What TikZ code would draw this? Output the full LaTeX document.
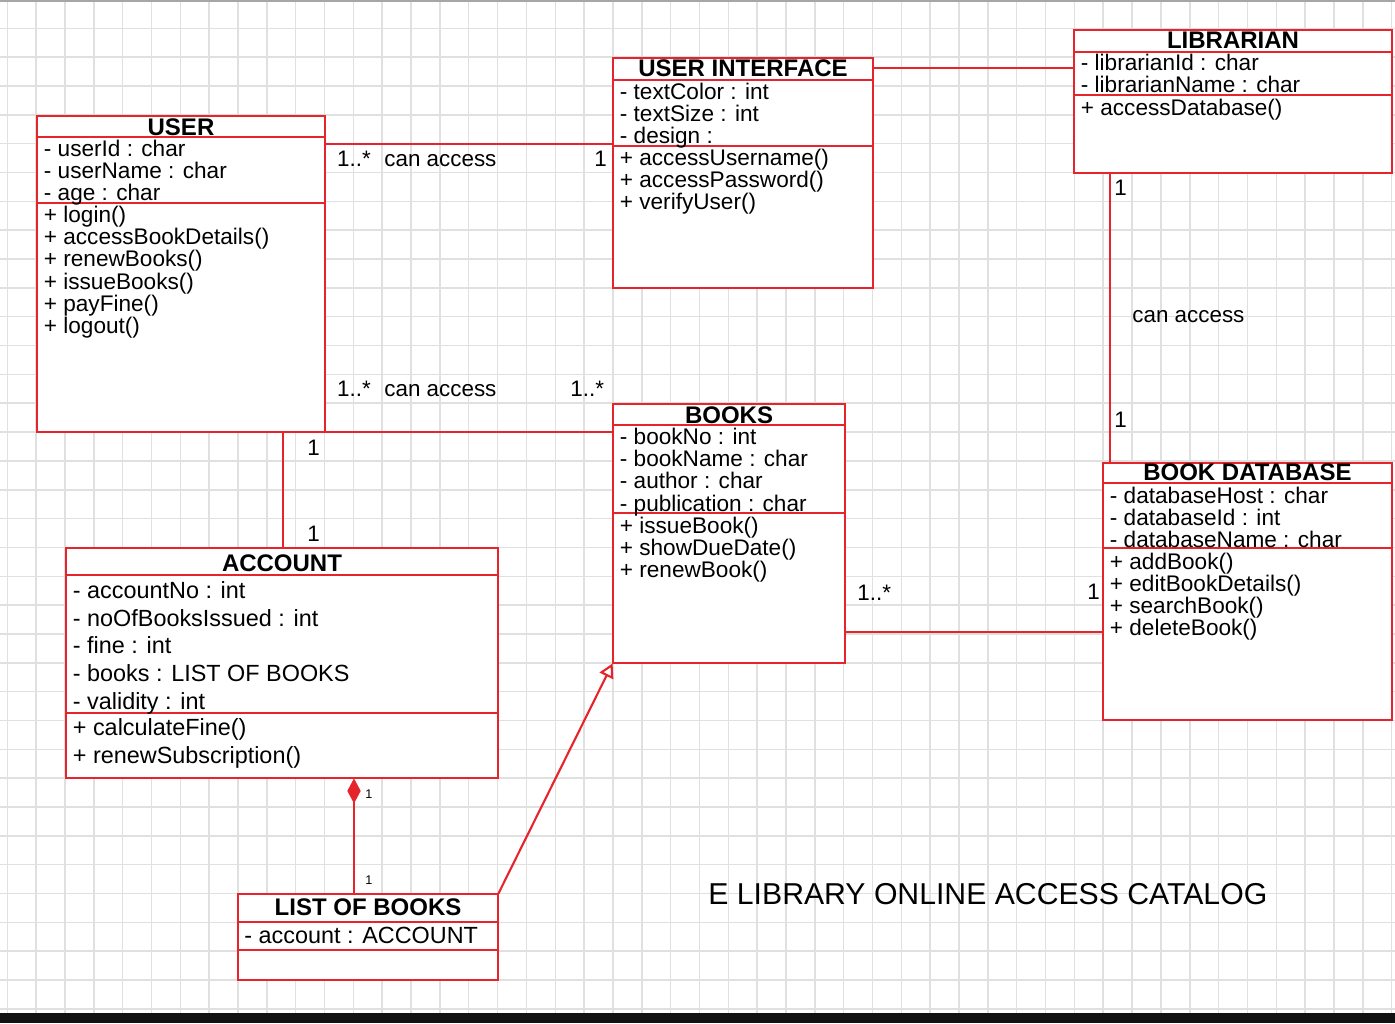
\documentclass[tikz,border=0pt]{standalone}
\usepackage{fontspec}
\setmainfont{Liberation Sans}
\usetikzlibrary{fit,arrows.meta,calc}
\definecolor{umlred}{RGB}{230,36,44}
\definecolor{gridgray}{RGB}{224,224,224}
\newcommand\umllines[6]{%
  \foreach \t [count=\i] in {#6} {\node[#5] (#1-\i) at ({#2},{#3+(\i-1)*#4}) {\t};}}
\tikzset{
  umlbox/.style={fill=white, inner sep=0pt},
  umlline/.style={draw=umlred, line width=1.05pt},
  gridline/.style={draw=gridgray, line width=0.75pt},
  attr/.style={anchor=base west, inner sep=0pt, font=\fontsize{11.3}{13}\selectfont},
  attrbig/.style={anchor=base west, inner sep=0pt, font=\fontsize{11.7}{13}\selectfont},
  ttl/.style={anchor=base, inner sep=0pt, font=\fontsize{12}{13}\selectfont\bfseries},
  lbl/.style={anchor=base west, inner sep=0pt, font=\fontsize{11.2}{13}\selectfont},
  smalllbl/.style={anchor=base west, inner sep=0pt, font=\fontsize{6.3}{7}\selectfont},
  heading/.style={anchor=base west, inner sep=0pt, font=\fontsize{15.1}{17}\selectfont},
}
\begin{document}
\begin{tikzpicture}[x=0.5pt,y=-0.5pt]
\useasboundingbox (0,0) rectangle (1395,1023);
\fill[white] (0,0) rectangle (1395,1023);
% grid
\foreach \k in {0,...,48} \draw[gridline] ({7.3+\k*28.84},0) -- ({7.3+\k*28.84},1013);
\foreach \k in {0,...,34} \draw[gridline] (0,{28.3+\k*28.84}) -- (1395,{28.3+\k*28.84});
\draw[gray!70, line width=0.8pt] (0,1) -- (1395,1);
\fill[black!93] (0,1013) rectangle (1395,1023);

% class boxes (white fill; outlines drawn after connectors)
\node[umlbox, fit={(37,116) (325,432)}] (user) {};
\node[umlbox, fit={(613,58) (873,288)}] (ui) {};
\node[umlbox, fit={(1074,30) (1392,173)}] (lib) {};
\node[umlbox, fit={(1103,463) (1392,720)}] (db) {};
\node[umlbox, fit={(613,404) (845,663)}] (books) {};
\node[umlbox, fit={(66,548) (498,778)}] (acc) {};
\node[umlbox, fit={(238,894) (498,980)}] (list) {};

% connectors
\draw[umlline] (user.east |- 0,144) -- (ui.west |- 0,144);
\draw[umlline] (ui.east |- 0,68) -- (lib.west |- 0,68);
\draw[umlline] (lib.south -| 1110,0) -- (db.north -| 1110,0);
\draw[umlline] (user.south east) -- (books.west |- user.south east);
\draw[umlline] (user.south -| 283,0) -- (acc.north -| 283,0);
\draw[umlline] (books.east |- 0,632) -- (db.west |- 0,632);
\draw[umlline, {Diamond[length=12.5pt,width=6.7pt,fill=umlred]}-] (acc.south -| 354,0) -- (list.north -| 354,0);
\draw[umlline, -{Triangle[open,length=7pt,width=7.5pt]}] (list.north east) -- (books.south west);

% box outlines
\foreach \n in {user,ui,lib,db,books,acc,list} \draw[umlline] (\n.north west) rectangle (\n.south east);

% USER
\draw[umlline] (user.west |- 0,137) -- (user.east |- 0,137);
\draw[umlline] (user.west |- 0,203) -- (user.east |- 0,203);
\node[ttl] (user-t) at (user.north |- 0,135) {USER};
\umllines{user-a}{43.5}{156}{22.2}{attr}{- userId : char, - userName : char, - age : char}
\umllines{user-m}{43.5}{222.5}{22.2}{attr}{+ login(), + accessBookDetails(), + renewBooks(), + issueBooks(), + payFine(), + logout()}

% USER INTERFACE
\draw[umlline] (ui.west |- 0,80) -- (ui.east |- 0,80);
\draw[umlline] (ui.west |- 0,146) -- (ui.east |- 0,146);
\node[ttl] (ui-t) at (ui.north |- 0,76.5) {USER INTERFACE};
\umllines{ui-a}{619.5}{99}{22}{attr}{- textColor : int, - textSize : int, - design :}
\umllines{ui-m}{619.5}{165}{22}{attr}{+ accessUsername(), + accessPassword(), + verifyUser()}

% LIBRARIAN
\draw[umlline] (lib.west |- 0,52) -- (lib.east |- 0,52);
\draw[umlline] (lib.west |- 0,95) -- (lib.east |- 0,95);
\node[ttl] (lib-t) at (lib.north |- 0,48.5) {LIBRARIAN};
\umllines{lib-a}{1080.5}{70}{22.4}{attr}{- librarianId : char, - librarianName : char}
\umllines{lib-m}{1080.5}{115}{22.4}{attr}{+ accessDatabase()}

% BOOK DATABASE
\draw[umlline] (db.west |- 0,483) -- (db.east |- 0,483);
\draw[umlline] (db.west |- 0,548) -- (db.east |- 0,548);
\node[ttl] (db-t) at (db.north |- 0,480) {BOOK DATABASE};
\umllines{db-a}{1109.5}{503}{22}{attr}{- databaseHost : char, - databaseId : int, - databaseName : char}
\umllines{db-m}{1109.5}{569}{22}{attr}{+ addBook(), + editBookDetails(), + searchBook(), + deleteBook()}

% BOOKS
\draw[umlline] (books.west |- 0,425) -- (books.east |- 0,425);
\draw[umlline] (books.west |- 0,513) -- (books.east |- 0,513);
\node[ttl] (books-t) at (books.north |- 0,423) {BOOKS};
\umllines{books-a}{619.5}{444.5}{22.2}{attr}{- bookNo : int, - bookName : char, - author : char, - publication : char}
\umllines{books-m}{619.5}{533}{22}{attr}{+ issueBook(), + showDueDate(), + renewBook()}

% ACCOUNT
\draw[umlline] (acc.west |- 0,575) -- (acc.east |- 0,575);
\draw[umlline] (acc.west |- 0,713) -- (acc.east |- 0,713);
\node[ttl] (acc-t) at (acc.north |- 0,571) {ACCOUNT};
\umllines{acc-a}{72.5}{598.5}{27.7}{attrbig}{- accountNo : int, - noOfBooksIssued : int, - fine : int, - books : LIST OF BOOKS, - validity : int}
\umllines{acc-m}{72.5}{735}{28}{attrbig}{+ calculateFine(), + renewSubscription()}

% LIST OF BOOKS
\draw[umlline] (list.west |- 0,922) -- (list.east |- 0,922);
\draw[umlline] (list.west |- 0,950) -- (list.east |- 0,950);
\node[ttl] (list-t) at (list.north |- 0,915.5) {LIST OF BOOKS};
\umllines{list-a}{244}{943.5}{22}{attrbig}{- account : ACCOUNT}

% connector labels
\node[lbl] (l1) at (336.7,166.7) {1..*};
\node[lbl] (l2) at (384,166.7) {can access};
\node[lbl] (l3) at (594,166.7) {1};
\node[lbl] (l4) at (336.7,396.7) {1..*};
\node[lbl] (l5) at (384,396.7) {can access};
\node[lbl] (l6) at (570,396.7) {1..*};
\node[lbl] (l7) at (1114,195) {1};
\node[lbl] (l8) at (1132,322) {can access};
\node[lbl] (l9) at (1114,427) {1};
\node[lbl] (l10) at (307,455) {1};
\node[lbl] (l11) at (307,541) {1};
\node[lbl] (l12) at (857,600) {1..*};
\node[lbl] (l13) at (1087,599) {1};
\node[smalllbl] (l14) at (365,798) {1};
\node[smalllbl] (l15) at (365,884.5) {1};

% heading
\node[heading] (title) at (708,904) {E LIBRARY ONLINE ACCESS CATALOG};
\end{tikzpicture}
\end{document}
